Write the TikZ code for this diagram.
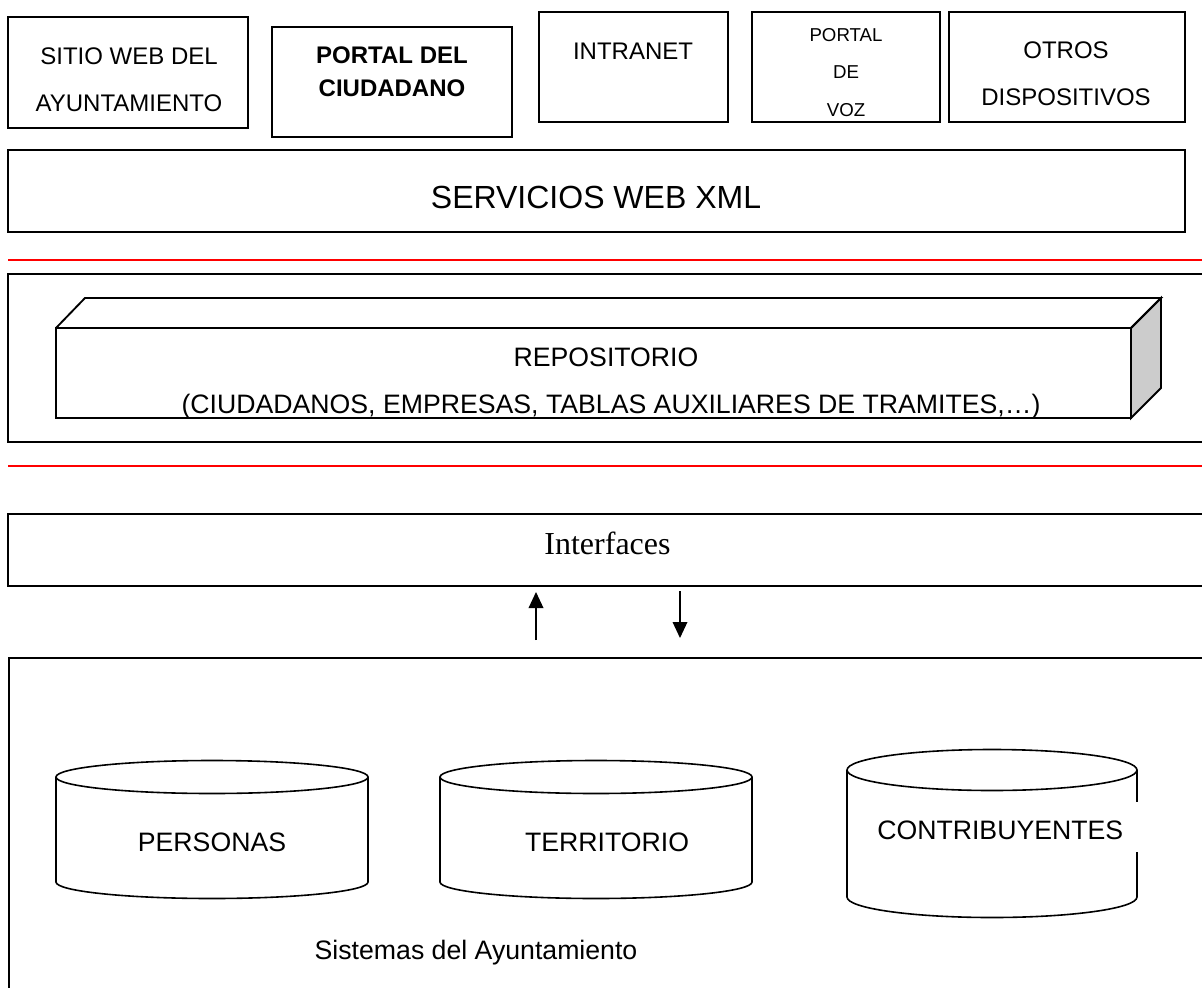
\documentclass[tikz,border=0pt]{standalone}
\usepackage{fontspec}
\setmainfont{Liberation Sans}
\newfontfamily\timesfont{Liberation Serif}
\usetikzlibrary{arrows.meta}

\begin{document}
\begin{tikzpicture}[x=0.75pt, y=-0.75pt,
    box/.style={line width=1.4pt},
    redline/.style={red, line width=1.2pt},
    db/.style={line width=1.2pt},
    flow/.style={line width=1pt, -{Triangle[length=12pt, width=11pt]}}]
    \useasboundingbox (0,0) rectangle (1202,988);
    % canales
    \draw[box] (8,17) rectangle (248,128);
    \node[align=center, font=\fontsize{18}{35}\selectfont] (sitio) at (129,79.5) {SITIO WEB DEL\\AYUNTAMIENTO};
    \draw[box] (272,27) rectangle (512,137);
    \node[align=center, font=\fontsize{18}{24.4}\selectfont\bfseries] (portal) at (392,72) {PORTAL DEL\\CIUDADANO};
    \draw[box] (539,12) rectangle (728,122);
    \node[anchor=base, font=\fontsize{18}{22}\selectfont] (intranet) at (633,59.5) {INTRANET};
    \draw[box] (752,12) rectangle (940,122);
    \node[align=center, font=\fontsize{14}{28}\selectfont] (voz) at (846,72.5) {PORTAL\\DE\\VOZ};
    \draw[box] (949,12) rectangle (1185,122);
    \node[align=center, font=\fontsize{18}{35.6}\selectfont] (otros) at (1066,74) {OTROS\\DISPOSITIVOS};
    \draw[box] (8,150) rectangle (1185,232);
    \node[anchor=base, font=\fontsize{24}{29}\selectfont] (servicios) at (596,208.6) {SERVICIOS WEB XML};
    \draw[redline] (8,260) -- (1202,260);
    % repositorio
    \draw[box] (1202,274) -- (8,274) -- (8,442) -- (1202,442);
    \draw[box, fill=gray!40] (1131,328) -- (1161,298) -- (1161,388) -- (1131,418) -- cycle;
    \draw[box] (56,328) -- (85,298) -- (1161,298) -- (1131,328);
    \draw[box] (56,328) rectangle (1131,418);
    \node[anchor=base, font=\fontsize{20}{24}\selectfont] (repo) at (606,366.7) {REPOSITORIO};
    \node[anchor=base, font=\fontsize{20}{24}\selectfont] (repoaux) at (611,413) {(CIUDADANOS, EMPRESAS, TABLAS AUXILIARES DE TRAMITES,…)};
    \draw[redline] (8,466) -- (1202,466);
    % interfaces
    \draw[box] (1202,514) -- (8,514) -- (8,586) -- (1202,586);
    \node[anchor=base, font=\timesfont\fontsize{24}{29}\selectfont] (iface) at (607.5,554) {Interfaces};
    \coordinate (upfrom) at (536,640);
    \coordinate (upto) at (536,592);
    \coordinate (downfrom) at (680,591);
    \coordinate (downto) at (680,638);
    \draw[flow] (upfrom) -- (upto);
    \draw[flow] (downfrom) -- (downto);
    % sistemas
    \draw[box] (1202,658) -- (9,658) -- (9,988);
    \draw[db] (56,777) -- (56,882) arc[start angle=180, end angle=0, x radius=156, y radius=16.5] -- (368,777);
    \draw[db] (212,777) ellipse [x radius=156, y radius=16.5];
    \node[anchor=base, font=\fontsize{20}{24}\selectfont] (personas) at (212,851) {PERSONAS};
    \draw[db] (440,777) -- (440,882) arc[start angle=180, end angle=0, x radius=156, y radius=16.5] -- (752,777);
    \draw[db] (596,777) ellipse [x radius=156, y radius=16.5];
    \node[anchor=base, font=\fontsize{20}{24}\selectfont] (territorio) at (607,851) {TERRITORIO};
    \draw[db] (847,770) -- (847,897) arc[start angle=180, end angle=0, x radius=145, y radius=20.5] -- (1137,770);
    \draw[db] (992,770) ellipse [x radius=145, y radius=20.5];
    \node[anchor=base west, fill=white, inner sep=0pt, text width=196.5pt, align=left,
      text height=27.75pt, text depth=9.75pt, font=\fontsize{20}{24}\selectfont] (contrib) at (877,839) {CONTRIBUYENTES};
    \node[anchor=base, font=\fontsize{20}{24}\selectfont] (sistemas) at (476,959) {Sistemas del Ayuntamiento};
  \end{tikzpicture}
\end{document}
